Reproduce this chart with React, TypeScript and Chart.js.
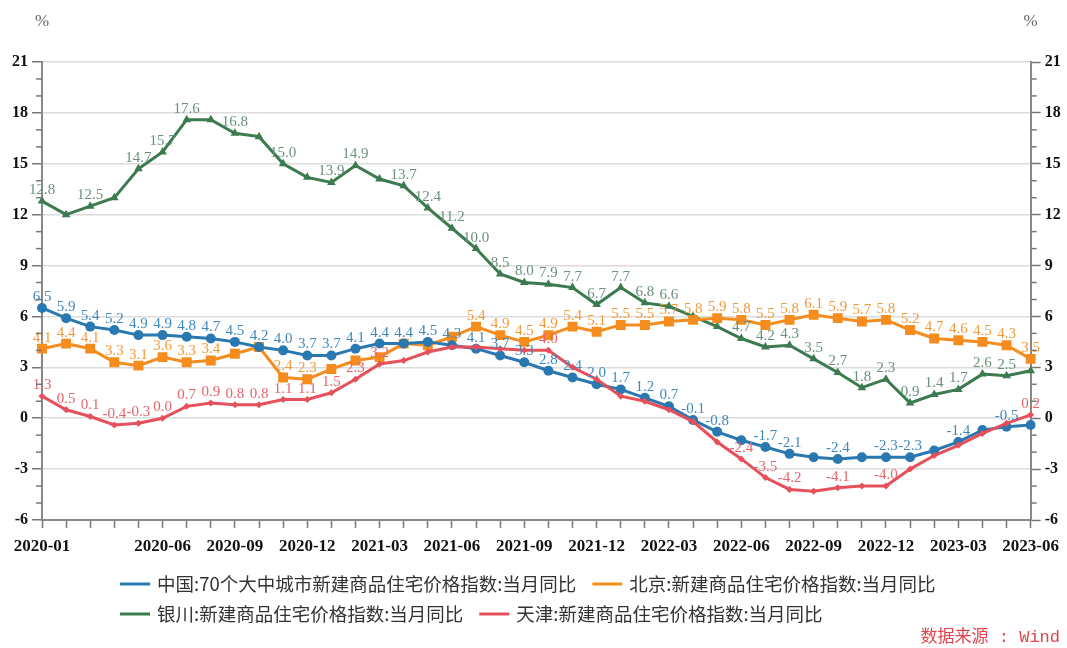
import React, { useEffect, useRef } from 'react';
import { Chart, registerables } from 'chart.js';

Chart.register(...registerables);

const months = [
  '2020-01', '2020-02', '2020-03', '2020-04', '2020-05', '2020-06', '2020-07', '2020-08', '2020-09', '2020-10', '2020-11', '2020-12',
  '2021-01', '2021-02', '2021-03', '2021-04', '2021-05', '2021-06', '2021-07', '2021-08', '2021-09', '2021-10', '2021-11', '2021-12',
  '2022-01', '2022-02', '2022-03', '2022-04', '2022-05', '2022-06', '2022-07', '2022-08', '2022-09', '2022-10', '2022-11', '2022-12',
  '2023-01', '2023-02', '2023-03', '2023-04', '2023-05', '2023-06',
];

const shownMonths = [
  '2020-01', '2020-06', '2020-09', '2020-12', '2021-03', '2021-06', '2021-09',
  '2021-12', '2022-03', '2022-06', '2022-09', '2022-12', '2023-03', '2023-06',
];

const chinaValues = [
  6.5, 5.9, 5.4, 5.2, 4.9, 4.9, 4.8, 4.7, 4.5, 4.2, 4.0, 3.7, 3.7, 4.1, 4.4, 4.4, 4.5, 4.3, 4.1, 3.7, 3.3,
  2.8, 2.4, 2.0, 1.7, 1.2, 0.7, -0.1, -0.8, -1.3, -1.7, -2.1, -2.3, -2.4, -2.3, -2.3, -2.3, -1.9, -1.4, -0.7, -0.5, -0.4,
];
const beijingValues = [
  4.1, 4.4, 4.1, 3.3, 3.1, 3.6, 3.3, 3.4, 3.8, 4.2, 2.4, 2.3, 2.9, 3.4, 3.6, 4.4, 4.3, 4.8, 5.4, 4.9, 4.5,
  4.9, 5.4, 5.1, 5.5, 5.5, 5.7, 5.8, 5.9, 5.8, 5.5, 5.8, 6.1, 5.9, 5.7, 5.8, 5.2, 4.7, 4.6, 4.5, 4.3, 3.5,
];
const yinchuanValues = [
  12.8, 12.0, 12.5, 13.0, 14.7, 15.7, 17.6, 17.6, 16.8, 16.6, 15.0, 14.2, 13.9, 14.9, 14.1, 13.7, 12.4, 11.2, 10.0, 8.5, 8.0,
  7.9, 7.7, 6.7, 7.7, 6.8, 6.6, 6.0, 5.4, 4.7, 4.2, 4.3, 3.5, 2.7, 1.8, 2.3, 0.9, 1.4, 1.7, 2.6, 2.5, 2.8,
];
const tianjinValues = [
  1.3, 0.5, 0.1, -0.4, -0.3, 0.0, 0.7, 0.9, 0.8, 0.8, 1.1, 1.1, 1.5, 2.3, 3.2, 3.4, 3.9, 4.2, 4.2, 4.1, 4.0,
  4.0, 3.0, 2.3, 1.3, 1.0, 0.5, -0.2, -1.4, -2.4, -3.5, -4.2, -4.3, -4.1, -4.0, -4.0, -3.0, -2.2, -1.6, -0.9, -0.3, 0.2,
];

// indices of points whose value label is printed
const chinaLabelIdx = [
  0, 1, 2, 3, 4, 5, 6, 7, 8, 9, 10, 11, 12, 13, 14, 15, 16, 17, 18, 19, 20, 21, 22, 23, 24, 25, 26, 27, 28,
  30, 31, 33, 35, 36, 38, 40,
];
const beijingLabelIdx = [
  0, 1, 2, 3, 4, 5, 6, 7, 10, 11, 18, 19, 20, 21, 22, 23, 24, 25, 26, 27, 28, 29, 30, 31, 32, 33, 34, 35, 36,
  37, 38, 39, 40, 41,
];
const yinchuanLabelIdx = [
  0, 2, 4, 5, 6, 8, 10, 12, 13, 15, 16, 17, 18, 19, 20, 21, 22, 23, 24, 25, 26, 29, 30, 31, 32, 33, 34, 35,
  36, 37, 38, 39, 40,
];
const tianjinLabelIdx = [0, 1, 2, 3, 4, 5, 6, 7, 8, 9, 10, 11, 12, 13, 14, 21, 29, 30, 31, 33, 35, 41];

const seriesNames = [
  '中国:70个大中城市新建商品住宅价格指数:当月同比',
  '北京:新建商品住宅价格指数:当月同比',
  '银川:新建商品住宅价格指数:当月同比',
  '天津:新建商品住宅价格指数:当月同比',
];
const seriesColors = ['#2a78b0', '#f58c1e', '#3c7a50', '#e6505a'];
const labelColors = ['#3f88bd', '#f29a3a', '#6a917a', '#e8646c'];

const unitText = '%';
const sourceText = '数据来源 : Wind';

const overlayPlugin = {
  id: 'overlay',
  afterDatasetsDraw(chart: any) {
    const ctx = chart.ctx;
    chart.data.datasets.forEach((ds: any, di: number) => {
      const meta = chart.getDatasetMeta(di);
      ctx.save();
      ctx.font = '15px "Liberation Serif"';
      ctx.fillStyle = ds.labelColor;
      ctx.textAlign = 'center';
      ctx.textBaseline = 'middle';
      ds.labelIdx.forEach((i: number) => {
        const el = meta.data[i];
        if (!el) return;
        ctx.fillText(Number(ds.data[i]).toFixed(1), el.x, el.y - 11);
      });
      ctx.restore();
    });
  },
  afterDraw(chart: any) {
    const ctx = chart.ctx;
    const area = chart.chartArea;
    ctx.save();
    // minor ticks on both value axes
    ctx.strokeStyle = '#777';
    ctx.lineWidth = 1.5;
    const yl = chart.scales.y;
    const yr = chart.scales.y2;
    for (let v = yl.min; v <= yl.max; v++) {
      if (v % 3 === 0) continue;
      const py = yl.getPixelForValue(v);
      ctx.beginPath();
      ctx.moveTo(area.left - 6, py);
      ctx.lineTo(area.left, py);
      ctx.stroke();
      const pr = yr.getPixelForValue(v);
      ctx.beginPath();
      ctx.moveTo(area.right, pr);
      ctx.lineTo(area.right + 6, pr);
      ctx.stroke();
    }
    // unit labels
    ctx.fillStyle = '#666';
    ctx.font = '17px "Liberation Serif"';
    ctx.textAlign = 'center';
    ctx.textBaseline = 'middle';
    ctx.fillText(unitText, area.left, 22);
    ctx.fillText(unitText, area.right, 22);

    // legend
    const rows = [[0, 1], [2, 3]];
    const rowY = [584, 614];
    ctx.font = '18.5px "Noto Sans CJK SC"';
    ctx.textAlign = 'left';
    rows.forEach((row, r) => {
      let x = 120;
      const y = rowY[r];
      row.forEach((si) => {
        ctx.strokeStyle = seriesColors[si];
        ctx.lineWidth = 3;
        ctx.beginPath();
        ctx.moveTo(x, y);
        ctx.lineTo(x + 30, y);
        ctx.stroke();
        ctx.fillStyle = '#333';
        ctx.fillText(seriesNames[si], x + 37, y);
        x += 37 + ctx.measureText(seriesNames[si]).width + 16;
      });
    });

    // source
    ctx.fillStyle = '#e0454f';
    ctx.font = '17px "Liberation Mono", "Noto Sans CJK SC"';
    ctx.textAlign = 'right';
    ctx.fillText(sourceText, 1060, 637);
    ctx.restore();
  },
};

export default function App() {
  const canvasRef = useRef<HTMLCanvasElement | null>(null);

  useEffect(() => {
    if (!canvasRef.current) return;
    const mk = (label: string, data: number[], i: number, style: string, radius: number, labelIdx: number[]) => ({
      label,
      data,
      borderColor: seriesColors[i],
      backgroundColor: seriesColors[i],
      borderWidth: 3,
      pointStyle: style,
      pointRadius: radius,
      pointBorderWidth: 0,
      pointBackgroundColor: seriesColors[i],
      tension: 0,
      yAxisID: 'y',
      labelIdx,
      labelColor: labelColors[i],
    });
    const chart = new Chart(canvasRef.current, {
      type: 'line',
      data: {
        labels: months,
        datasets: [
          mk(seriesNames[3], tianjinValues, 3, 'rectRot', 3.5, tianjinLabelIdx),
          mk(seriesNames[0], chinaValues, 0, 'circle', 5, chinaLabelIdx),
          mk(seriesNames[1], beijingValues, 1, 'rect', 7, beijingLabelIdx),
          mk(seriesNames[2], yinchuanValues, 2, 'triangle', 5, yinchuanLabelIdx),
        ] as any,
      },
      options: {
        animation: false,
        responsive: true,
        maintainAspectRatio: false,
        layout: { padding: { top: 62, left: 0, right: 0, bottom: 0 } },
        plugins: { legend: { display: false }, tooltip: { enabled: false }, title: { display: false } },
        scales: {
          x: {
            type: 'category',
            offset: false,
            grid: { display: true, drawOnChartArea: false, drawTicks: true, tickLength: 8, tickColor: '#777', tickWidth: 1.5, offset: false },
            border: { display: true, color: '#888', width: 2 },
            ticks: {
              autoSkip: false,
              maxRotation: 0,
              minRotation: 0,
              padding: 8,
              color: '#111',
              font: { family: 'Liberation Serif', size: 17, weight: 'bold' },
              callback: (_v: any, index: number) => (shownMonths.includes(months[index]) ? months[index] : ''),
            },
            afterFit: (s: any) => { s.height = 128; },
          },
          y: {
            position: 'left',
            min: -6,
            max: 21,
            ticks: { stepSize: 3, padding: 4, color: '#111', font: { family: 'Liberation Serif', size: 16, weight: 'bold' } },
            grid: {
              color: (c: any) => (c.tick && c.tick.value === -6 ? 'transparent' : '#dcdcdc'),
              lineWidth: 1.5,
              tickLength: 10,
              tickColor: '#777',
              tickWidth: 1.5,
            },
            border: { display: true, color: '#888', width: 2 },
            afterFit: (s: any) => { s.width = 42; },
          },
          y2: {
            position: 'right',
            min: -6,
            max: 21,
            ticks: { stepSize: 3, padding: 4, color: '#111', font: { family: 'Liberation Serif', size: 16, weight: 'bold' } },
            grid: { drawOnChartArea: false, tickLength: 10, tickColor: '#777', tickWidth: 1.5 },
            border: { display: true, color: '#888', width: 2 },
            afterFit: (s: any) => { s.width = 34; },
          },
        },
      } as any,
      plugins: [overlayPlugin],
    });
    return () => chart.destroy();
  }, []);

  return (
    <div style={{ position: 'fixed', left: 0, top: 0, width: 1067, height: 648, background: '#fff' }}>
      <canvas ref={canvasRef} />
    </div>
  );
}
